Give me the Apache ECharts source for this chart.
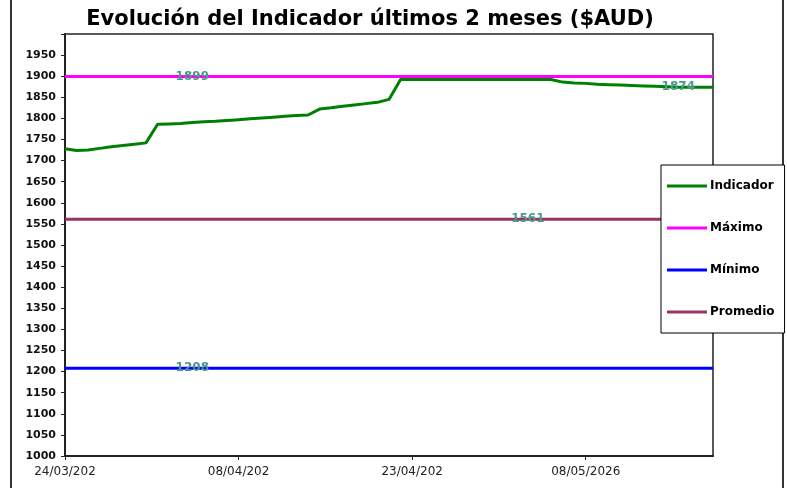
<!DOCTYPE html>
<html>
<head>
<meta charset="utf-8">
<script src="https://cdn.jsdelivr.net/npm/echarts@6/dist/echarts.min.js"></script>
<style>html,body{margin:0;padding:0;background:#fff;}#c{width:787px;height:488px;}</style>
</head>
<body>
<div id="c"></div>
<script>
const categories = [
 '24/03/2026','25/03/2026','26/03/2026','27/03/2026','28/03/2026','29/03/2026','30/03/2026','31/03/2026',
 '01/04/2026','02/04/2026','03/04/2026','04/04/2026','05/04/2026','06/04/2026','07/04/2026','08/04/2026',
 '09/04/2026','10/04/2026','11/04/2026','12/04/2026','13/04/2026','14/04/2026','15/04/2026','16/04/2026',
 '17/04/2026','18/04/2026','19/04/2026','20/04/2026','21/04/2026','22/04/2026','23/04/2026','24/04/2026',
 '25/04/2026','26/04/2026','27/04/2026','28/04/2026','29/04/2026','30/04/2026','01/05/2026','02/05/2026',
 '03/05/2026','04/05/2026','05/05/2026','06/05/2026','07/05/2026','08/05/2026','09/05/2026','10/05/2026',
 '11/05/2026','12/05/2026','13/05/2026','14/05/2026','15/05/2026','16/05/2026','17/05/2026','18/05/2026',
 '19/05/2026'
];
const tickLabels = ['24/03/202', '08/04/202', '23/04/202', '08/05/2026'];
const indicador = [
 1728, 1724, 1725, 1729, 1733, 1736, 1739, 1742,
 1786, 1787, 1788, 1790, 1792, 1793, 1795, 1797,
 1799, 1801, 1803, 1805, 1807, 1808, 1822, 1825,
 1829, 1832, 1835, 1838, 1845, 1892, 1892, 1892,
 1892, 1892, 1892, 1892, 1892, 1892, 1892, 1892,
 1892, 1892, 1892, 1886, 1884, 1883, 1881, 1880,
 1879, 1878, 1877, 1876, 1875, 1874, 1874, 1874,
 1874
];
const maximo = 1899;
const minimo = 1208;
const promedio = 1561;
const yTicks = { min: 1000, max: 2000, step: 50 };

const labelStyle = {
  show: true, position: 'inside', color: '#4a9a8a', fontWeight: 'bold',
  fontSize: 12, fontFamily: 'DejaVu Sans'
};
function constLine(v, labelIndex) {
  const last = categories.length - 1;
  return [
    [categories[0], v],
    { value: [categories[labelIndex], v], label: labelStyle },
    [categories[last], v]
  ];
}
const indData = indicador.map((v, i) => i === 53 ? { value: v, label: labelStyle } : v);

const chart = echarts.init(document.getElementById('c'), null, { renderer: 'canvas' });
const lineBase = { type: 'line', symbol: 'circle', symbolSize: 0, showSymbol: true, showAllSymbol: true, animation: false, emphasis: { disabled: true } };
chart.setOption({
  animation: false,
  backgroundColor: '#ffffff',
  title: {
    text: 'Evolución del Indicador últimos 2 meses ($AUD)',
    left: 365, textAlign: 'center', top: 4,
    textStyle: { fontFamily: 'DejaVu Sans', fontWeight: 'bold', fontSize: 21, color: '#000' }
  },
  graphic: [{
    type: 'rect', z: 0, silent: true,
    shape: { x: 11, y: -3, width: 772, height: 494 },
    style: { fill: 'none', stroke: '#333', lineWidth: 2 }
  }],
  legend: {
    orient: 'vertical', left: 661, top: 165,
    padding: [15, 10, 15, 6],
    backgroundColor: '#fff', borderColor: '#000', borderWidth: 1,
    icon: 'rect', itemWidth: 40, itemHeight: 3, itemGap: 30,
    textStyle: { fontFamily: 'DejaVu Sans', fontWeight: 'bold', fontSize: 12, color: '#000', padding: [0, 0, 0, -2] },
    data: ['Indicador', 'Máximo', 'Mínimo', 'Promedio'],
    z: 10
  },
  grid: { left: 65, right: 74, top: 34, bottom: 32, show: true, borderColor: '#222', borderWidth: 1.5, backgroundColor: 'transparent' },
  xAxis: {
    type: 'category', data: categories, boundaryGap: false,
    axisLine: { lineStyle: { color: '#222', width: 2 } },
    axisTick: { show: true, interval: 14, length: 4, lineStyle: { color: '#222' } },
    axisLabel: {
      interval: 14, margin: 10, color: '#222', fontFamily: 'DejaVu Sans', fontSize: 12,
      formatter: (v, i) => (i % 15 === 0 ? tickLabels[i / 15] : '')
    },
    splitLine: { show: false }
  },
  yAxis: {
    type: 'value', min: yTicks.min, max: yTicks.max, interval: yTicks.step,
    axisLine: { show: true, lineStyle: { color: '#222', width: 2 } },
    axisTick: { show: true, length: 4, lineStyle: { color: '#222' } },
    axisLabel: {
      margin: 9, color: '#111', fontFamily: 'DejaVu Sans', fontWeight: 'bold', fontSize: 11,
      formatter: v => (v === yTicks.max ? '' : String(v))
    },
    splitLine: { show: false }
  },
  series: [
    Object.assign({}, lineBase, { name: 'Máximo', data: constLine(maximo, 11), z: 3, itemStyle: { color: '#ff00ff' }, lineStyle: { color: '#ff00ff', width: 3 } }),
    Object.assign({}, lineBase, { name: 'Mínimo', data: constLine(minimo, 11), z: 3, itemStyle: { color: '#0000ff' }, lineStyle: { color: '#0000ff', width: 3 } }),
    Object.assign({}, lineBase, { name: 'Promedio', data: constLine(promedio, 40), z: 3, itemStyle: { color: '#993366' }, lineStyle: { color: '#993366', width: 3 } }),
    Object.assign({}, lineBase, { name: 'Indicador', data: indData, z: 4, itemStyle: { color: '#008000' }, lineStyle: { color: '#008000', width: 3 } })
  ]
});
</script>
</body>
</html>
